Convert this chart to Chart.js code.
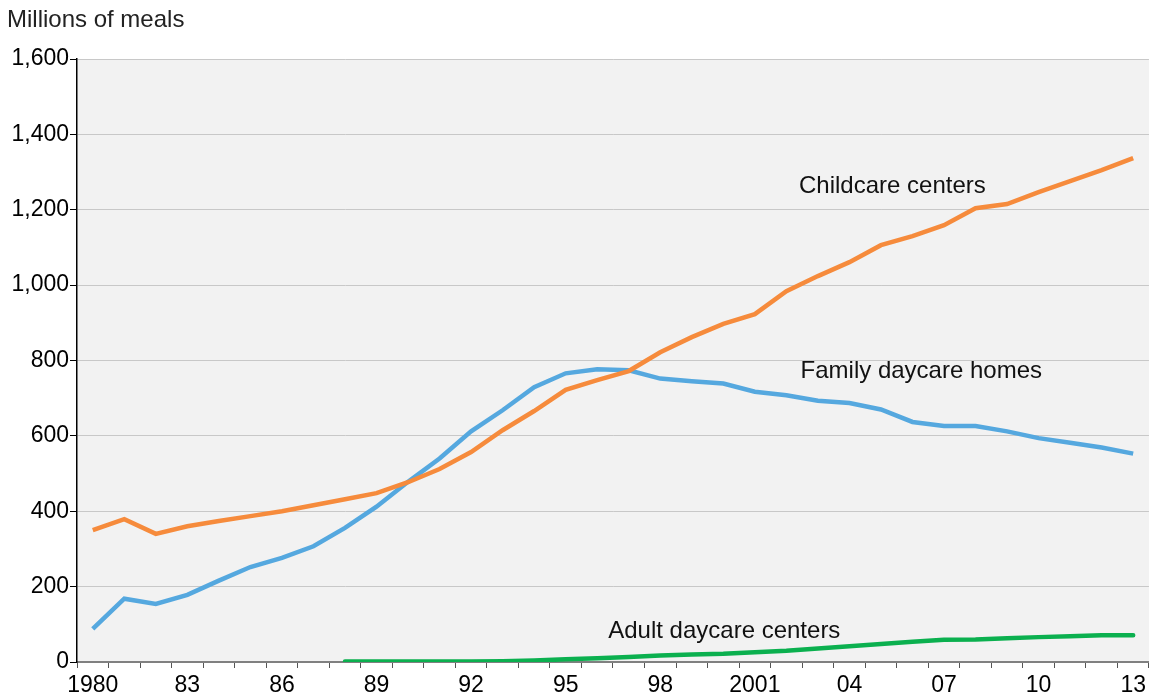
<!DOCTYPE html>
<html lang="en">
<head>
<meta charset="UTF-8">
<title>Child and Adult Care Food Program meals</title>
<style>
    * { margin: 0; padding: 0; box-sizing: border-box; }
    body { background: #fff; font-family: "Liberation Sans", Arial, sans-serif; }
    .wrap { width: 1152px; height: 694px; position: relative; }
</style>
</head>
<body>
<div class="wrap">
    <canvas id="mealsChart" width="1152" height="694"></canvas>
</div>

<script src="https://cdn.jsdelivr.net/npm/chart.js@4.4.0/dist/chart.umd.min.js"></script>
<script>
// data (millions of meals)
const years = [1980, 1981, 1982, 1983, 1984, 1985, 1986, 1987, 1988, 1989,
    1990, 1991, 1992, 1993, 1994, 1995, 1996, 1997, 1998, 1999,
    2000, 2001, 2002, 2003, 2004, 2005, 2006, 2007, 2008, 2009,
    2010, 2011, 2012, 2013];

const childcareCenters = [350, 379, 340, 360, 374, 387, 400, 416, 432, 448,
    477, 512, 557, 615, 666, 722, 748, 772, 822, 862,
    897, 923, 984, 1024, 1061, 1106, 1130, 1159, 1204, 1215,
    1247, 1276, 1305, 1337];

const familyDaycareHomes = [88, 168, 154, 178, 216, 252, 276, 307, 356, 412,
    478, 540, 612, 668, 729, 766, 777, 774, 752, 745,
    739, 717, 708, 693, 687, 670, 637, 626, 626, 612,
    594, 582, 569, 553];

const adultDaycareCenters = [null, null, null, null, null, null, null, null, 1, 1,
    1, 1, 1, 2, 4, 7, 10, 13, 17, 20,
    22, 26, 30, 36, 42, 48, 54, 59, 60, 63,
    66, 68, 71, 71];

// only every third year gets a label
const tickLabels = {1980: '1980', 1983: '83', 1986: '86', 1989: '89', 1992: '92',
    1995: '95', 1998: '98', 2001: '2001', 2004: '04', 2007: '07', 2010: '10', 2013: '13'};

const yTicks = [0, 200, 400, 600, 800, 1000, 1200, 1400, 1600];

// series labels placed in data coordinates
const seriesLabels = [
    { text: 'Childcare centers', year: 2002.4, value: 1263 },
    { text: 'Family daycare homes', year: 2002.45, value: 770 },
    { text: 'Adult daycare centers', year: 1996.35, value: 82 }
];

const fontFamily = '"Liberation Sans", Arial, sans-serif';

// grey plot background + free text
const decorPlugin = {
    id: 'decor',
    beforeDraw(chart) {
        const { ctx, chartArea } = chart;
        ctx.save();
        ctx.fillStyle = '#f2f2f2';
        ctx.fillRect(chartArea.left, chartArea.top,
            chartArea.right - chartArea.left, chartArea.bottom - chartArea.top);
        ctx.restore();
    },
    afterDraw(chart) {
        const { ctx } = chart;
        const xs = chart.scales.x, ys = chart.scales.y;
        ctx.save();
        ctx.fillStyle = '#222';
        ctx.font = '24px ' + fontFamily;
        ctx.textBaseline = 'middle';
        ctx.textAlign = 'left';
        ctx.fillText('Millions of meals', 7, 20);

        ctx.fillStyle = '#111';
        seriesLabels.forEach(l => {
            const px = xs.getPixelForValue(l.year - years[0]);
            const py = ys.getPixelForValue(l.value);
            ctx.fillText(l.text, px, py);
        });
        ctx.restore();
    }
};

new Chart(document.getElementById('mealsChart'), {
    type: 'line',
    data: {
        labels: years,
        datasets: [
            {
                label: 'Childcare centers',
                data: childcareCenters,
                borderColor: '#F68B3C',
                borderWidth: 4.5
            },
            {
                label: 'Family daycare homes',
                data: familyDaycareHomes,
                borderColor: '#55A8DF',
                borderWidth: 4.5
            },
            {
                label: 'Adult daycare centers',
                data: adultDaycareCenters,
                borderColor: '#0BB04F',
                borderWidth: 4.5,
                borderCapStyle: 'round'
            }
        ]
    },
    options: {
        responsive: false,
        animation: false,
        events: [],
        elements: {
            point: { radius: 0 },
            line: { tension: 0 }
        },
        layout: { padding: { top: 59, right: 2, left: 0, bottom: 0 } },
        plugins: {
            legend: { display: false },
            tooltip: { enabled: false }
        },
        scales: {
            x: {
                offset: true,
                afterFit: scale => { scale.height = 32; },
                grid: {
                    offset: true,
                    drawOnChartArea: false,
                    drawTicks: true,
                    tickLength: 6,
                    tickColor: '#555'
                },
                border: { color: '#808080', width: 2 },
                ticks: {
                    autoSkip: false,
                    maxRotation: 0,
                    padding: 6,
                    color: '#000',
                    font: { family: fontFamily, size: 23, lineHeight: 1.0 },
                    callback: function (val) {
                        const y = years[val];
                        return tickLabels[y] || '';
                    }
                }
            },
            y: {
                min: 0,
                max: 1600,
                afterBuildTicks: scale => {
                    scale.ticks = yTicks.map(v => ({ value: v }));
                },
                afterFit: scale => { scale.width = 77; },
                grid: {
                    color: '#c8c8c8',
                    lineWidth: 1,
                    tickLength: 7,
                    tickColor: '#000'
                },
                border: { color: '#000', width: 1.5 },
                ticks: {
                    padding: 1,
                    color: '#000',
                    font: { family: fontFamily, size: 23 },
                    callback: v => v.toLocaleString('en-US')
                }
            }
        }
    },
    plugins: [decorPlugin]
});
</script>
</body>
</html>
